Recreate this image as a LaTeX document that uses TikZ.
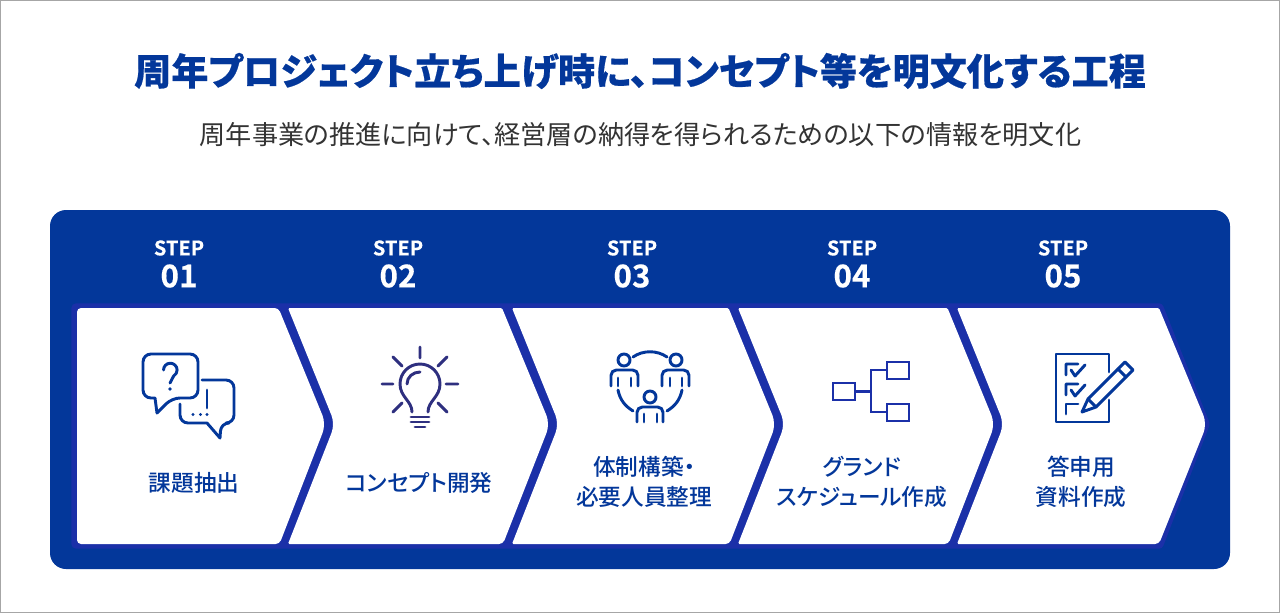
\documentclass[tikz,border=0pt]{standalone}
\usepackage{fontspec}
\newfontfamily\tfont[RawFeature={+palt},FakeBold=0.5]{Noto Sans CJK JP Black}
\newfontfamily\bfont[FakeBold=0.3]{Noto Sans CJK JP Bold}
\newfontfamily\mfont[RawFeature={+palt}]{Noto Sans CJK JP Medium}
\newfontfamily\rfont[RawFeature={+palt}]{Noto Sans CJK JP}
\definecolor{panelblue}{HTML}{03379A}
\definecolor{bandblue}{HTML}{1B30A8}
\definecolor{bulbnavy}{HTML}{2E2F7F}
\definecolor{subgray}{HTML}{333333}
\tikzset{
 whitechev/.style={fill=white,draw=none},
 steplab/.style={text=white,inner sep=0pt,font=\bfont\fontsize{15}{16}\selectfont},
 numlab/.style={text=white,inner sep=0pt,font=\bfont\fontsize{23.5}{26}\selectfont},
 boxlab/.style={text=panelblue,inner sep=0pt,align=center,font=\mfont\fontsize{17}{22.5}\selectfont},
 ico/.style={draw=panelblue,line width=2.2pt,line cap=round,line join=round},
 icob/.style={draw=bulbnavy,line width=2.2pt,line cap=round,line join=round},
 icot/.style={draw=bandblue,line width=1.9pt,line join=miter},
}
\begin{document}
\begin{tikzpicture}[x=0.75pt,y=-0.75pt]
\useasboundingbox (0,0) rectangle (1280,613);
\fill[white] (0,0) rectangle (1280,613);
\draw[gray!70,line width=0.75pt] (0.5,0.5) rectangle (1279.5,612.5);
\node[inner sep=0pt,text=panelblue] (title) at (640,71) {\tfont\fontsize{27.85}{30}\selectfont 周年プロジェクト立ち上げ時に、コンセプト等を明文化する工程};
\node[inner sep=0pt,text=subgray] (sub) at (640.5,134.5) {\rfont\fontsize{19.6}{24}\selectfont 周年事業の推進に向けて、経営層の納得を得られるための以下の情報を明文化};
% panel
\fill[panelblue,rounded corners=12pt] (50,210) rectangle (1230,569);
% band
\draw[fill=bandblue,draw=bandblue,line width=7pt,line join=round]
  (76,308) -- (1159,308) -- (1205,424) -- (1159,544) -- (76,544) -- cycle;
% chevrons
\fill[whitechev,rounded corners=3pt] (77,308) -- (278.5,308) [rounded corners=7pt] -- (326,424) [rounded corners=3pt] -- (279.5,544) -- (77,544) -- cycle;
\fill[whitechev,rounded corners=1pt] (288,308) -- (502,308) [rounded corners=7pt] -- (550,424) [rounded corners=3pt] -- (503,544) [rounded corners=1pt] -- (288,544) [rounded corners=7pt] -- (335,424) [rounded corners=1pt] -- cycle;
\fill[whitechev,rounded corners=1pt] (512,308) -- (728.5,308) [rounded corners=7pt] -- (776,424) [rounded corners=3pt] -- (729.5,544) [rounded corners=1pt] -- (512,544) [rounded corners=7pt] -- (559,424) [rounded corners=1pt] -- cycle;
\fill[whitechev,rounded corners=1pt] (738,308) -- (947.5,308) [rounded corners=7pt] -- (995,424) [rounded corners=3pt] -- (948.5,544) [rounded corners=1pt] -- (738,544) [rounded corners=7pt] -- (785,424) [rounded corners=1pt] -- cycle;
\fill[whitechev,rounded corners=1pt] (957,308) -- (1159,308) [rounded corners=7pt] -- (1207,424) [rounded corners=3pt] -- (1159,544) [rounded corners=1pt] -- (957,544) [rounded corners=7pt] -- (1004,424) [rounded corners=1pt] -- cycle;
% step labels
\node[steplab] (s1) at (179,248) {STEP}; \node[numlab] (n1) at (179,276) {01};
\node[steplab] (s2) at (398,248) {STEP}; \node[numlab] (n2) at (398,276) {02};
\node[steplab] (s3) at (632,248) {STEP}; \node[numlab] (n3) at (632,276) {03};
\node[steplab] (s4) at (852,248) {STEP}; \node[numlab] (n4) at (852,276) {04};
\node[steplab] (s5) at (1063,248) {STEP}; \node[numlab] (n5) at (1063,276) {05};
% box labels
\node[boxlab] (b1) at (194,483) {課題抽出};
\node[boxlab] (b2) at (419,483) {コンセプト開発};
\node[boxlab] (b3) at (644,482) {体制構築・\\必要人員整理};
\node[boxlab] (b4) at (862,482) {グランド\\スケジュール作成};
\node[boxlab] (b5) at (1081,482) {答申用\\資料作成};
% icon 1
\draw[ico,rounded corners=6pt] (172,398) [rounded corners=0pt] -- (157,413) -- (155,398) [rounded corners=6pt] -- (143,398) -- (143,354) -- (198,354) -- (198,398) -- cycle;
\draw[ico] (163.5,370) arc[start angle=180,end angle=420,radius=6.8] -- (170,383);
\fill[panelblue] (170,389) circle (1.8);
\draw[ico,rounded corners=6pt] (202,380) -- (234,380) -- (234,423) -- (221,423) [rounded corners=0pt] -- (220,438) -- (207,423) [rounded corners=6pt] -- (180,423) -- (180,404);
\draw[ico] (207,390) -- (207,408);
\fill[panelblue] (193,414.5) circle (1.7) (200.5,414.5) circle (1.7) (207,414.5) circle (1.7);
% icon 2
\draw[icob] (420,347) -- (420,358) (382,384) -- (393,384) (446,384) -- (458,384)
 (393,357) -- (402,366) (447,357) -- (438,366) (393,412) -- (402,403) (447,412) -- (438,403);
\draw[icob] (412,412) .. controls (412,401) and (400,397) .. (400,384) arc[start angle=180,end angle=360,radius=20] .. controls (440,397) and (428,401) .. (428,412);
\draw[icob] (407,384) .. controls (407,377) and (413,372) .. (420,372);
\draw[icob] (411,417) -- (429,417) (411,422) -- (429,422) (415,427) -- (425,427);
% icon 3
\draw[ico] (624,360) circle (6) (676,360) circle (6) (650,397) circle (6);
\draw[ico] (633,357) .. controls (643,350) and (657,350) .. (667,357);
\draw[ico,rounded corners=4pt] (611,386) -- (611,370) -- (638,370) -- (638,386);
\draw[ico] (618,378) -- (618,386) (631,378) -- (631,386);
\draw[ico,rounded corners=4pt] (662,386) -- (662,370) -- (689,370) -- (689,386);
\draw[ico] (670,378) -- (670,386) (682,378) -- (682,386);
\draw[ico,rounded corners=4pt] (637,422) -- (637,407) -- (663,407) -- (663,422);
\draw[ico] (644,414) -- (644,422) (657,414) -- (657,422);
\draw[ico] (618,390) .. controls (620,400) and (625,406) .. (633,411);
\draw[ico] (682,390) .. controls (680,400) and (675,406) .. (667,411);
% icon 4
\draw[icot] (833,383) rectangle (855,400);
\draw[icot] (887,362) rectangle (909,379);
\draw[icot] (887,404) rectangle (909,421);
\draw[icot] (855,391.5) -- (871,391.5) (887,370) -- (871,370) -- (871,412) -- (887,412);
% icon 5
\draw[ico] (1109,372) -- (1109,354) -- (1056,354) -- (1056,422) -- (1109,422) -- (1109,400);
\draw[ico] (1078,364) -- (1066,364) -- (1066,375) (1071,370) -- (1075,376) -- (1085,365);
\draw[ico] (1078,384) -- (1066,384) -- (1066,395) (1071,390) -- (1075,396) -- (1085,385);
\draw[ico] (1078,404) -- (1066,404) -- (1066,414);
\draw[ico] (1082,412) -- (1088,399) -- (1125,362) -- (1133,370) -- (1096,407) -- cycle;
\draw[ico] (1088,399) -- (1096,407) (1118,369) -- (1126,377);
\end{tikzpicture}
\end{document}
